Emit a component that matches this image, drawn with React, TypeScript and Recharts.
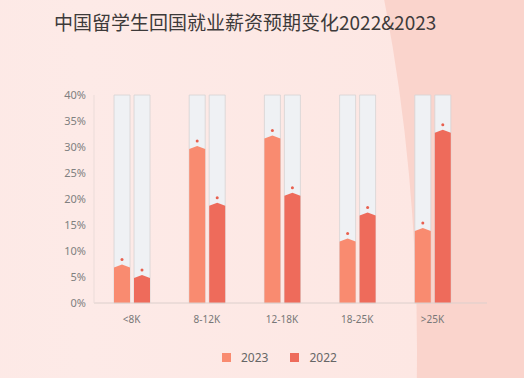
import React from "react";
import { BarChart, Bar, XAxis, YAxis, Legend } from "recharts";

const categories = ["<8K", "8-12K", "12-18K", "18-25K", ">25K"];
const values2023 = [7.4, 30.2, 32.2, 12.4, 14.4];
const values2022 = [5.4, 19.3, 21.2, 17.4, 33.3];
const yTicks = [0, 5, 10, 15, 20, 25, 30, 35, 40];
const seriesNames = ["2023", "2022"];

const data = categories.map((c, i) => ({
  name: c,
  v2023: values2023[i],
  v2022: values2022[i],
}));

const COLOR_2023 = "#F98B70";
const COLOR_2022 = "#EE6B5B";

const RoofBar = (props: any) => {
  const { x, y, width, height, fill } = props;
  if (height == null || height <= 0) return null;
  const peak = 3;
  const d = `M${x},${y + peak} L${x + width / 2},${y} L${x + width},${y + peak} L${x + width},${y + height} L${x},${y + height} Z`;
  return (
    <g>
      <path d={d} fill={fill} />
      <circle cx={x + width / 2} cy={y - 5} r={1.5} fill="#E8604F" />
    </g>
  );
};

const LegendContent = () => (
  <div
    style={{
      display: "flex",
      justifyContent: "flex-start",
      paddingLeft: 222,
      alignItems: "center",
      fontFamily: "'Noto Sans', sans-serif",
      fontSize: 12,
      color: "#666",
    }}
  >
    {seriesNames.map((n, i) => (
      <div key={n} style={{ display: "flex", alignItems: "center", marginRight: 22 }}>
        <span
          style={{
            display: "inline-block",
            width: 9,
            height: 9,
            background: i === 0 ? COLOR_2023 : COLOR_2022,
            marginRight: 10,
          }}
        />
        <span>{n}</span>
      </div>
    ))}
  </div>
);

export default function App() {
  return (
    <div
      style={{
        position: "fixed",
        left: 0,
        top: 0,
        width: 524,
        height: 378,
        overflow: "hidden",
        background: "#FAD4CC",
      }}
    >
      <div
        style={{
          position: "absolute",
          left: -417,
          top: 350 - 900,
          width: 834,
          height: 1800,
          borderRadius: "50%",
          background: "linear-gradient(90deg, #FCE5E1 0%, #FDEAE7 60%, #FDE7E3 100%)",
        }}
      />
      <div
        style={{
          position: "absolute",
          left: 54,
          top: 8,
          fontFamily: "'Noto Sans CJK SC', sans-serif",
          fontSize: 19,
          fontWeight: 400,
          color: "#3D3A3A",
          whiteSpace: "nowrap",
          lineHeight: "28px",
        }}
      >
        中国留学生回国就业薪资预期变化2022&2023
      </div>
      <div style={{ position: "absolute", left: 0, top: 0 }}>
        <BarChart
          width={524}
          height={378}
          data={data}
          margin={{ top: 95, right: 37, left: 0, bottom: 28 }}
          barSize={16}
          barGap={4}
        >
          <XAxis
            dataKey="name"
            axisLine={{ stroke: "#DCCFCC" }}
            tickLine={false}
            tickMargin={7}
            padding={{ left: 0, right: 17 }}
            height={30}
            tick={{ fill: "#777", fontSize: 10, fontFamily: "'Noto Sans', sans-serif" }}
          />
          <YAxis
            width={94}
            domain={[0, 40]}
            ticks={yTicks}
            interval={0}
            axisLine={{ stroke: "#EBDCD9" }}
            tickLine={false}
            tickFormatter={(v: number) => `${v}%`}
            tick={{ fill: "#808080", fontSize: 11, fontFamily: "'Noto Sans', sans-serif" }}
          />
          <Legend
            verticalAlign="bottom"
            content={<LegendContent />}
            wrapperStyle={{ position: "absolute", left: 0, top: 349, width: 524 }}
          />
          <Bar
            dataKey="v2023"
            name="2023"
            fill={COLOR_2023}
            shape={<RoofBar />}
            background={{ fill: "#EFF1F4", stroke: "#D6D3D3", strokeWidth: 0.8 }}
            isAnimationActive={false}
          />
          <Bar
            dataKey="v2022"
            name="2022"
            fill={COLOR_2022}
            shape={<RoofBar />}
            background={{ fill: "#EFF1F4", stroke: "#D6D3D3", strokeWidth: 0.8 }}
            isAnimationActive={false}
          />
        </BarChart>
      </div>
    </div>
  );
}
